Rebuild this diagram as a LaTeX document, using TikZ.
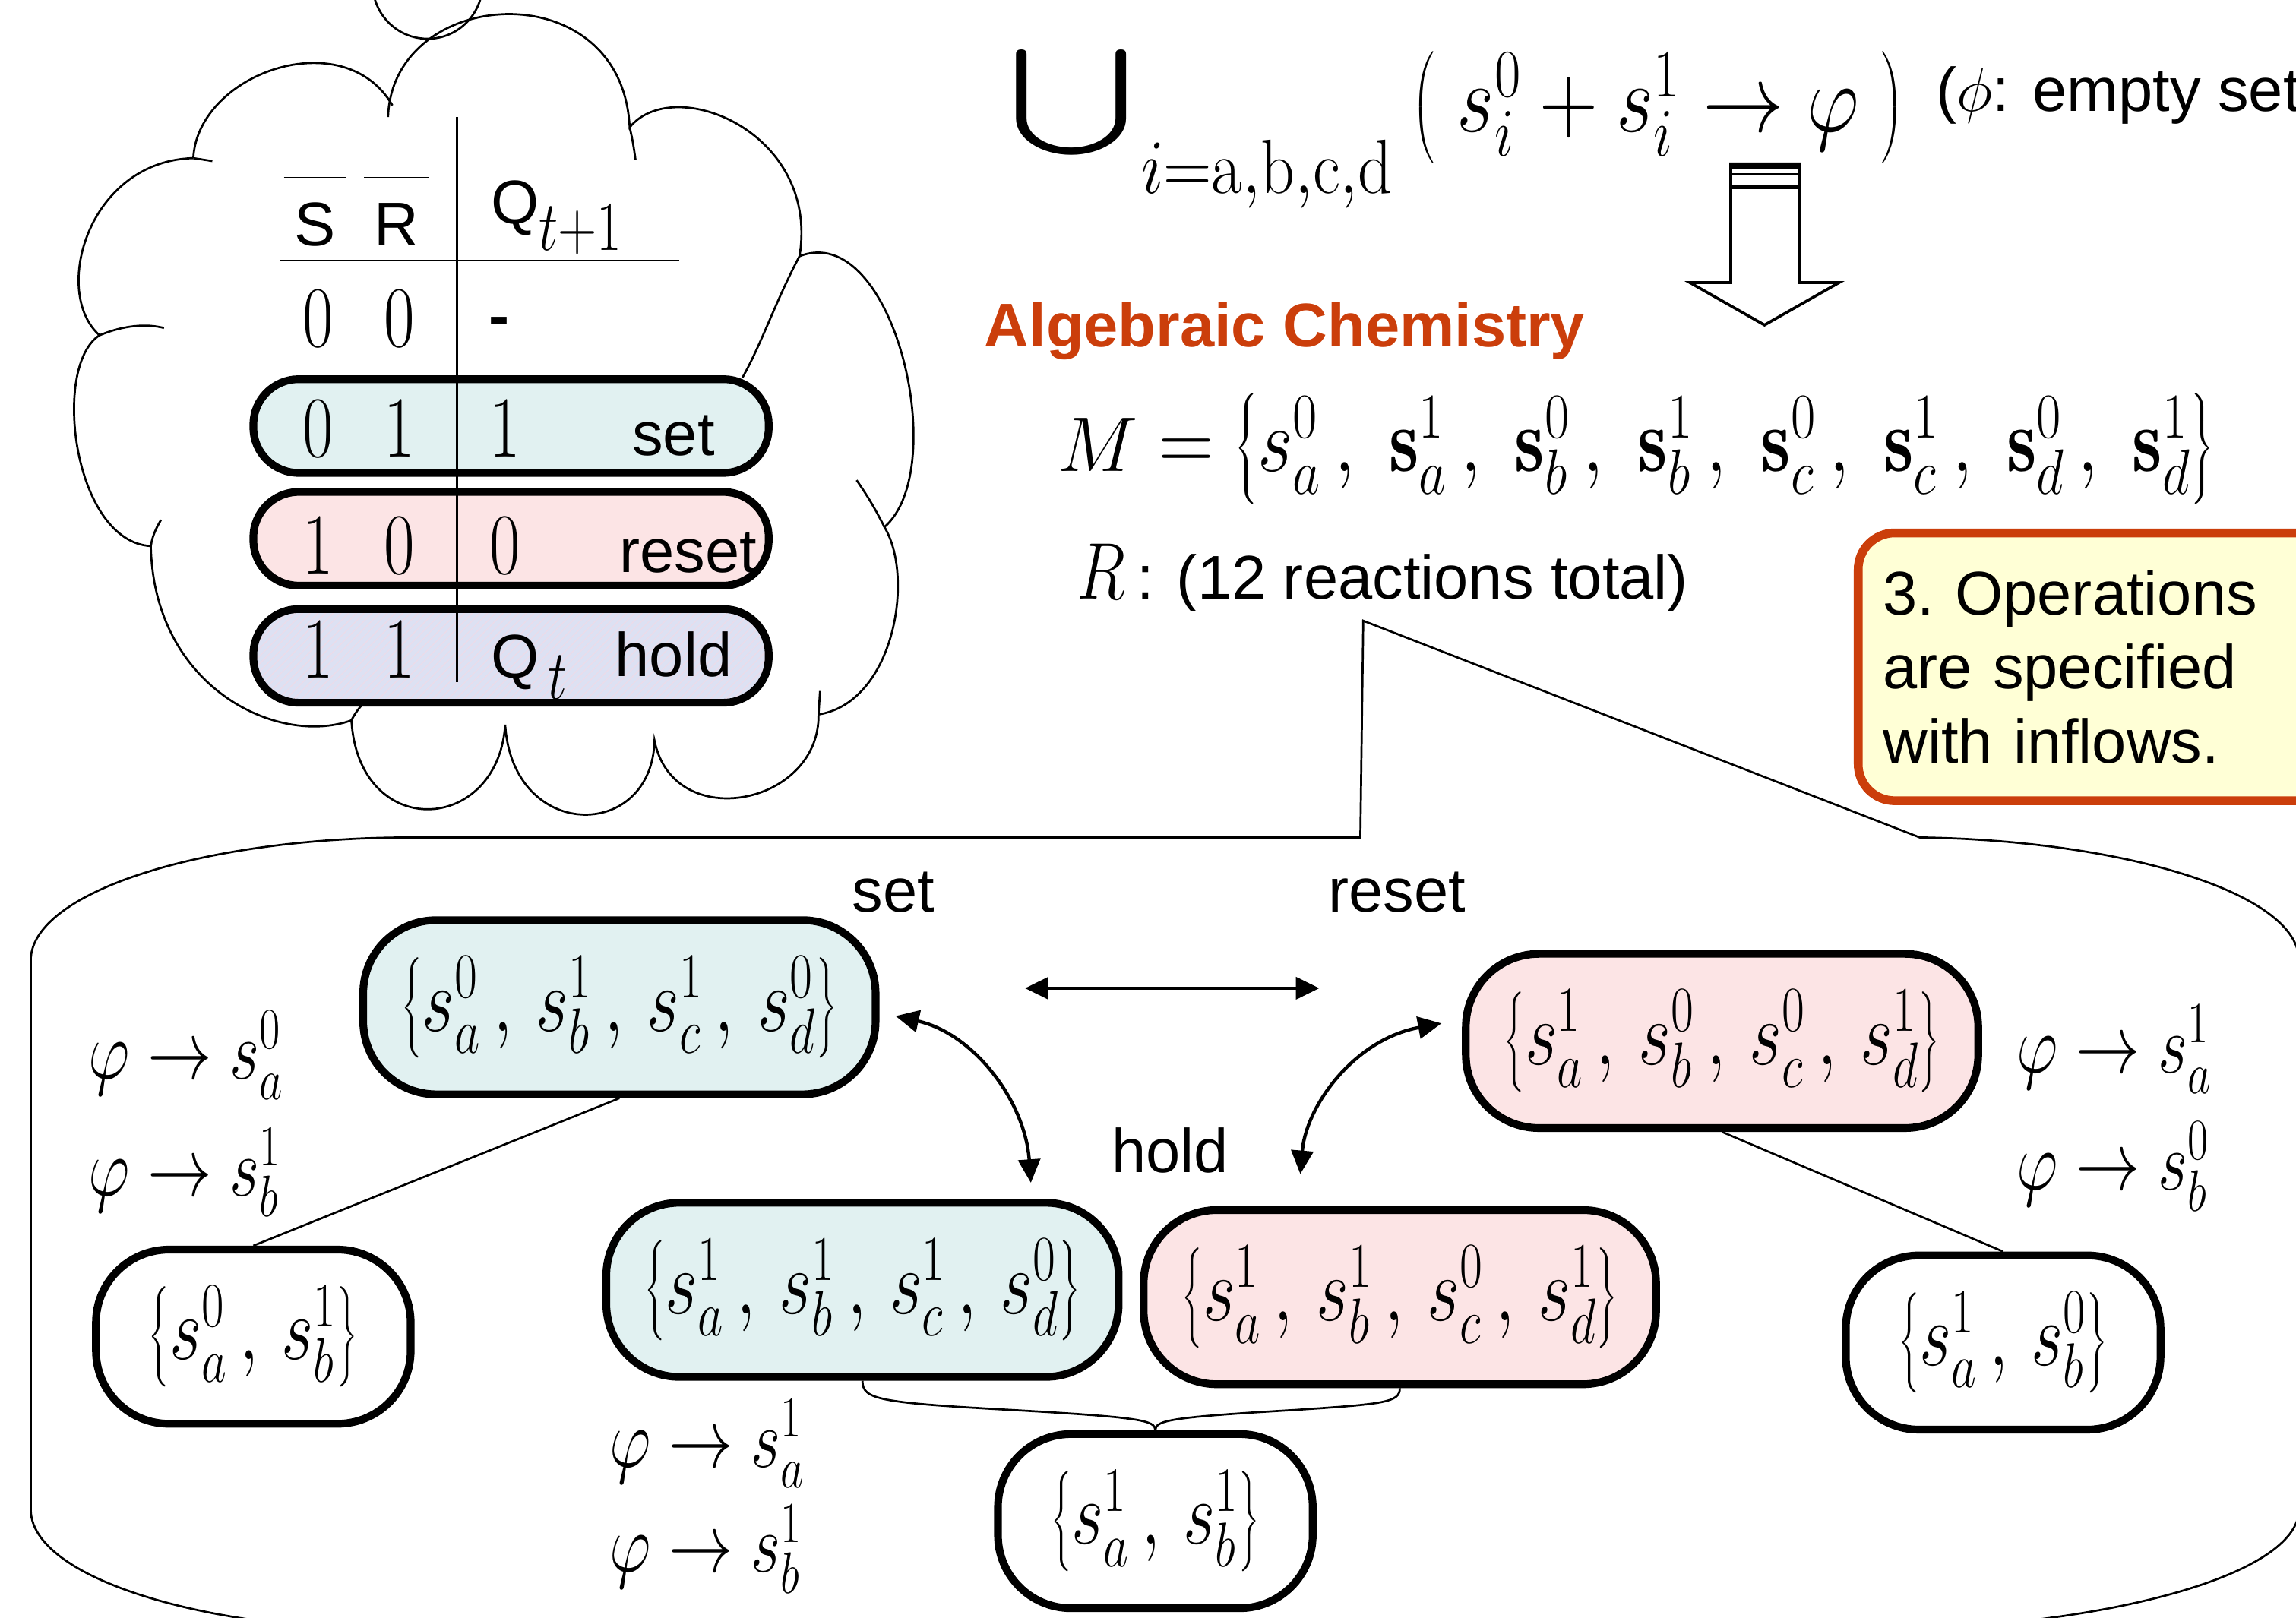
\RequirePackage{fix-cm}
\documentclass[tikz,border=0pt]{standalone}
\usepackage{fontspec}
\setsansfont{Liberation Sans}
\usepackage{graphicx}
\usetikzlibrary{positioning, arrows.meta, patterns}

\definecolor{setfill}{HTML}{E1F1F1}
\definecolor{resetfill}{HTML}{FCE4E5}
\definecolor{holdfill}{HTML}{DDE1F3}
\definecolor{holdline}{HTML}{EBDCEA}
\definecolor{notefill}{HTML}{FFFFD6}
\definecolor{rust}{HTML}{CB3E0B}

% tall serif math, as on the slide
\newcommand{\tallm}[2][1.3]{\scalebox{1}[#1]{$#2$}}

\begin{document}
\begin{tikzpicture}[
    x=0.02cm, y=-0.02cm,
    sans/.style={font=\fontsize{24}{28.7}\selectfont\sffamily},
    digit/.style={font=\fontsize{26}{30}\selectfont, anchor=base, inner sep=0pt},
    rowpill/.style={draw, line width=3pt, rounded corners=0.62cm, minimum width=7.04cm, minimum height=1.28cm},
    mset/.style={draw, line width=3pt, rounded corners=1cm, minimum height=2.38cm, font=\fontsize{27.4}{31}\selectfont},
    bigmset/.style={mset, minimum width=7.0cm},
    smallmset/.style={mset, minimum width=4.3cm, fill=white, font=\fontsize{27}{31}\selectfont},
    inflow/.style={font=\fontsize{25}{29}\selectfont, anchor=base west, inner sep=0pt},
    biarrow/.style={{Triangle[length=0.32cm,width=0.3cm]}-{Triangle[length=0.32cm,width=0.3cm]}, line width=1.3pt},
    wire/.style={line width=0.8pt},
    notebox/.style={draw=rust, line width=3.4pt, fill=notefill, rounded corners=0.5cm, sans, align=left, text width=7.3cm, minimum height=3.66cm, inner xsep=0.34cm}
]
\useasboundingbox (0,0) rectangle (1568,1105);
\clip (0,0) rectangle (1568,1105);

% Thought cloud with the truth table
\draw[wire] (132,108) .. controls (135,50) and (235,15) .. (268,72)
    (265,80) .. controls (268,-10) and (425,-20) .. (430,87)
    .. controls (460,50) and (560,90) .. (546,175)
    .. controls (610,150) and (650,320) .. (604,360)
    .. controls (625,395) and (610,480) .. (559,488)
    .. controls (560,550) and (460,570) .. (447,506)
    .. controls (445,575) and (350,575) .. (345,495)
    .. controls (340,570) and (245,575) .. (240,492)
    .. controls (190,510) and (105,470) .. (103,373)
    .. controls (50,370) and (35,250) .. (68,229)
    .. controls (35,200) and (60,110) .. (132,108);
% small inner tails of the puffs
\draw[wire] (546,175) .. controls (530,205) and (520,235) .. (507,258)
    (604,360) .. controls (598,348) and (592,338) .. (585,328)
    (68,229) .. controls (85,222) and (100,221) .. (112,224)
    (240,492) .. controls (244,484) and (250,478) .. (256,473)
    (559,488) -- (560,472)
    (430,87) .. controls (432,95) and (433,102) .. (434,109)
    (103,373) .. controls (104,366) and (107,360) .. (110,355)
    (132,108) -- (145,110);
\node[circle, draw, wire, minimum size=1.5cm] (puff) at (292,-11) {};

\node[rowpill, fill=setfill] (rowset) at (349,291) {};
\node[rowpill, fill=resetfill] (rowreset) at (349,368) {};
\node[rowpill, preaction={fill=holdfill}, pattern=north east lines, pattern color=holdline] (rowhold) at (349,448) {};

\node[sans, anchor=base] (hs) at (215,168) {$\overline{\mbox{\,S\,\rule{0pt}{1.05em}}}$};
\node[sans, anchor=base] (hr) at (271,168) {$\overline{\mbox{\,R\,\rule{0pt}{1.05em}}}$};
\node[sans, anchor=base west] (hq) at (329,153) {Q\raisebox{-0.42em}{\fontsize{21}{24}\selectfont\tallm{t{+}1}}};

\node[digit] (s1) at (217,237) {\tallm{0}};
\node[digit] (r1) at (273,237) {\tallm{0}};
\node[sans, anchor=base] (q1) at (341,230) {\bfseries -};

\node[digit] (s2) at (217,312) {\tallm{0}};
\node[digit] (r2) at (273,312) {\tallm{1}};
\node[digit] (q2) at (345,312) {\tallm{1}};
\node[sans, anchor=base] (lset) at (460,311) {set};

\node[digit] (s3) at (217,392) {\tallm{1}};
\node[digit] (r3) at (273,392) {\tallm{0}};
\node[digit] (q3) at (345,392) {\tallm{0}};
\node[sans, anchor=base] (lreset) at (470,391) {reset};

\node[digit] (s4) at (217,463) {\tallm{1}};
\node[digit] (r4) at (273,463) {\tallm{1}};
\node[sans, anchor=base west] (q4) at (329,463) {Q\hspace{0.15em}\raisebox{-0.35em}{\fontsize{21}{24}\selectfont\tallm{t}}};
\node[sans, anchor=base] (lhold) at (460,462) {hold};

\draw[wire] (191,178) -- (464,178);
\draw[wire] (312,80) -- (312,466);

% Top right: reactions and the algebraic chemistry
\node[inner sep=0pt] (union) at (732,70) {\resizebox*{1.74cm}{1.44cm}{$\bigcup$}};
\node[anchor=base west, inner sep=0pt, font=\fontsize{26}{30}\selectfont] (range) at (779,132) {\tallm[1.15]{i{=}\mathrm{a{,}b{,}c{,}d}}};
\node[anchor=base west, inner sep=0pt, font=\fontsize{31.5}{36}\selectfont] (annih) at (964,90) {\tallm[1.2]{\left(\;s_i^0+s_i^1\to\varphi\;\right)}};
\node[sans, anchor=base west, inner sep=0pt] (empty) at (1322,76) {($\phi$: empty set)};

\draw[line width=1.1pt, fill=white] (1182,112) -- (1229,112) -- (1229,193) -- (1256,193) -- (1205,222) -- (1154,193) -- (1182,193) -- cycle;
\draw[line width=1.6pt] (1182,114) -- (1229,114);
\draw[line width=0.8pt] (1182,119) -- (1229,119);
\draw[line width=1.6pt] (1182,128) -- (1229,128);

\node[sans, text=rust, anchor=base west, inner sep=0pt] (title) at (672,237) {\bfseries Algebraic Chemistry};
\node[anchor=base west, inner sep=0pt, font=\fontsize{29.6}{34}\selectfont] (mols) at (722,322) {\tallm[1.2]{\scalebox{1}[0.85]{$M$}=\left\{s_a^0\,,\; \mathbf{s}_a^1\,,\; \mathbf{s}_b^0\,,\; \mathbf{s}_b^1\,,\; \mathbf{s}_c^0\,,\; \mathbf{s}_c^1\,,\; \mathbf{s}_d^0\,,\; \mathbf{s}_d^1\right\}}};
\node[anchor=base west, inner sep=0pt, font=\fontsize{25}{30}\selectfont] (reac) at (735,409) {\tallm[1.25]{R}};
\node[sans, anchor=base west, inner sep=0pt] (reactotal) at (776,409) {: (12 reactions total)};

\node[notebox, anchor=north west] (note) at (1266,361) {3.\ Operations\\are specified\\with inflows.};

% Callout with the reaction network
\draw[wire] (281,572) -- (929,572) -- (931,424) -- (1311,572)
    .. controls (1450,574) and (1570,610) .. (1570,656) -- (1570,1031)
    .. controls (1570,1077) and (1431,1114) .. (1260,1114) -- (281,1114)
    .. controls (137,1114) and (21,1077) .. (21,1031) -- (21,656)
    .. controls (21,610) and (137,572) .. (281,572) -- cycle;

\node[bigmset, fill=setfill] (setc) at (423,688) {\tallm{\left\{s_a^0\,,\, s_b^1\,,\, s_c^1\,,\, s_d^0\right\}}};
\node[bigmset, fill=resetfill] (resets) at (1176,711) {\tallm{\left\{s_a^1\,,\, s_b^0\,,\, s_c^0\,,\, s_d^1\right\}}};
\node[bigmset, fill=setfill] (holdc) at (589,881) {\tallm{\left\{s_a^1\,,\, s_b^1\,,\, s_c^1\,,\, s_d^0\right\}}};
\node[bigmset, fill=resetfill] (holdp) at (956,886) {\tallm{\left\{s_a^1\,,\, s_b^1\,,\, s_c^0\,,\, s_d^1\right\}}};
\node[smallmset] (sab01) at (173,913) {\tallm{\left\{s_a^0\,,\, s_b^1\right\}}};
\node[smallmset] (sab10) at (1368,917) {\tallm{\left\{s_a^1\,,\, s_b^0\right\}}};
\node[smallmset] (sab11) at (789,1039) {\tallm{\left\{s_a^1\,,\, s_b^1\right\}}};

\node[sans, anchor=base] (tset) at (610,623) {set};
\node[sans, anchor=base] (treset) at (954,623) {reset};
\node[sans, anchor=base] (thold) at (799,801) {hold};

% Inflows
\node[inflow] (in1) at (60,737) {\tallm{\varphi\to s_a^0}};
\node[inflow] (in2) at (60,817) {\tallm{\varphi\to s_b^1}};
\node[inflow] (in3) at (1377,733) {\tallm{\varphi\to s_a^1}};
\node[inflow] (in4) at (1377,813) {\tallm{\varphi\to s_b^0}};
\node[inflow] (in5) at (416,1002) {\tallm{\varphi\to s_a^1}};
\node[inflow] (in6) at (416,1074) {\tallm{\varphi\to s_b^1}};

% Transitions
\coordinate (tl) at (700,675);
\coordinate (tr) at (901,675);
\draw[biarrow] (tl) -- (tr);
\draw[biarrow] ([shift={(11,6)}]setc.east) .. controls (665,706) and (700,752) .. ([shift={(115,-11)}]holdc.north);
\draw[biarrow] ([shift={(-68,-22)}]holdp.north) .. controls (892,755) and (925,710) .. ([shift={(-14,-12)}]resets.west);

% Sub-multisets
\draw[wire] (setc.south) -- (sab01.north);
\draw[wire] (resets.south) -- (sab10.north);
\draw[wire] (holdc.south) .. controls (589,956) and (600,958) .. (690,963) .. controls (778,968) and (789,970) .. (sab11.north);
\draw[wire] (holdp.south) .. controls (956,958) and (945,959) .. (885,963) .. controls (800,968) and (789,970) .. (sab11.north);

\end{tikzpicture}
\end{document}
